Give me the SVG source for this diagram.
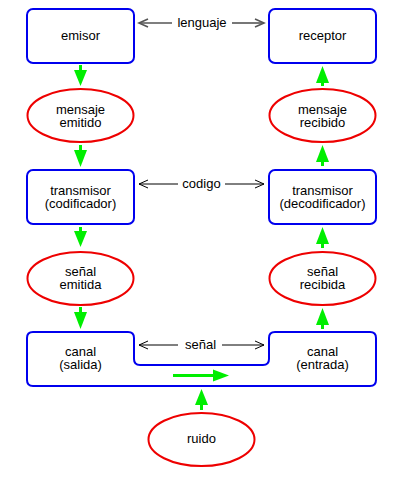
<svg xmlns="http://www.w3.org/2000/svg" width="400" height="480" viewBox="0 0 400 480">
<style>
.box{fill:#fff;stroke:#0000ee;stroke-width:2}
.ell{fill:#fff;stroke:#ee0000;stroke-width:2}
text{font-family:"Liberation Sans",Arial,sans-serif;font-size:13px;fill:#000;text-anchor:middle}
.g{stroke:#00ee00;stroke-width:3;fill:none}
.gh{fill:#00ee00;stroke:none}
.ln{stroke:#000;stroke-width:1;fill:none}
.lg{stroke:#555;stroke-width:1.6;fill:none}
</style>
<rect width="400" height="480" fill="#fff"/>
<g id="emisor"><rect class="box" x="27" y="9" width="107" height="54" rx="6"/><text x="80.5" y="40">emisor</text></g>
<g id="receptor"><rect class="box" x="269" y="9" width="107" height="54" rx="6"/><text x="322.5" y="40">receptor</text></g>
<g id="mensaje_emitido"><ellipse class="ell" cx="80.5" cy="115.5" rx="53" ry="26.5"/><text x="80.5" y="114">mensaje</text><text x="80.5" y="127">emitido</text></g>
<g id="mensaje_recibido"><ellipse class="ell" cx="322.5" cy="115.5" rx="53" ry="26.5"/><text x="322.5" y="114">mensaje</text><text x="322.5" y="127">recibido</text></g>
<g id="transmisor_cod"><rect class="box" x="27" y="170" width="107" height="54" rx="6"/><text x="80.5" y="195">transmisor</text><text x="80.5" y="208">(codificador)</text></g>
<g id="transmisor_dec"><rect class="box" x="269" y="170" width="107" height="54" rx="6"/><text x="322.5" y="195">transmisor</text><text x="322.5" y="208">(decodificador)</text></g>
<g id="senal_emitida"><ellipse class="ell" cx="80.5" cy="278.5" rx="53" ry="26.5"/><text x="80.5" y="276">señal</text><text x="80.5" y="289">emitida</text></g>
<g id="senal_recibida"><ellipse class="ell" cx="322.5" cy="278.5" rx="53" ry="26.5"/><text x="322.5" y="276">señal</text><text x="322.5" y="289">recibida</text></g>
<g id="canal"><path class="box" d="M33,332 H128 Q134,332 134,338 V359 Q134,365 140,365 H263 Q269,365 269,359 V338 Q269,332 275,332 H370 Q376,332 376,338 V380 Q376,386 370,386 H33 Q27,386 27,380 V338 Q27,332 33,332 Z"/><text x="80.5" y="356">canal</text><text x="80.5" y="369">(salida)</text><text x="322.5" y="356">canal</text><text x="322.5" y="369">(entrada)</text></g>
<g id="ruido"><ellipse class="ell" cx="201.5" cy="439.5" rx="53" ry="26.5"/><text x="201.5" y="443">ruido</text></g>
<g id="connectors">
<line class="lg" x1="139" y1="23" x2="172" y2="23"/><line class="lg" x1="232" y1="23" x2="264" y2="23"/>
<path class="lg" d="M148,19 L139,23 L148,27 M255,19 L264,23 L255,27"/>
<text x="202" y="27">lenguaje</text>
<line class="ln" x1="139" y1="184" x2="178" y2="184"/><line class="ln" x1="225" y1="184" x2="264" y2="184"/>
<path class="ln" d="M148,180 L139,184 L148,188 M255,180 L264,184 L255,188"/>
<text x="201.5" y="188">codigo</text>
<line class="ln" x1="139" y1="345" x2="178" y2="345"/><line class="ln" x1="222" y1="345" x2="264" y2="345"/>
<path class="ln" d="M148,341 L139,345 L148,349 M255,341 L264,345 L255,349"/>
<text x="200.5" y="349">señal</text>
<line class="g" x1="80.5" y1="65" x2="80.5" y2="74"/><polygon class="gh" points="74,70 87,70 80.5,86"/>
<line class="g" x1="80.5" y1="145" x2="80.5" y2="154"/><polygon class="gh" points="74,150 87,150 80.5,167"/>
<line class="g" x1="80.5" y1="227" x2="80.5" y2="236"/><polygon class="gh" points="74,231 87,231 80.5,247"/>
<line class="g" x1="80.5" y1="307" x2="80.5" y2="316"/><polygon class="gh" points="74,312 87,312 80.5,329"/>
<line class="g" x1="322.5" y1="86" x2="322.5" y2="78"/><polygon class="gh" points="316,83 329,83 322.5,66"/>
<line class="g" x1="322.5" y1="166" x2="322.5" y2="158"/><polygon class="gh" points="316,162 329,162 322.5,145"/>
<line class="g" x1="322.5" y1="248" x2="322.5" y2="240"/><polygon class="gh" points="316,244 329,244 322.5,227"/>
<line class="g" x1="322.5" y1="329" x2="322.5" y2="321"/><polygon class="gh" points="316,325 329,325 322.5,308"/>
<line class="g" x1="173" y1="375.5" x2="216" y2="375.5"/><polygon class="gh" points="213,369.5 213,381.5 229,375.5"/>
<line class="g" x1="201.5" y1="410" x2="201.5" y2="401"/><polygon class="gh" points="195,405 208,405 201.5,389"/>
</g>
</svg>
